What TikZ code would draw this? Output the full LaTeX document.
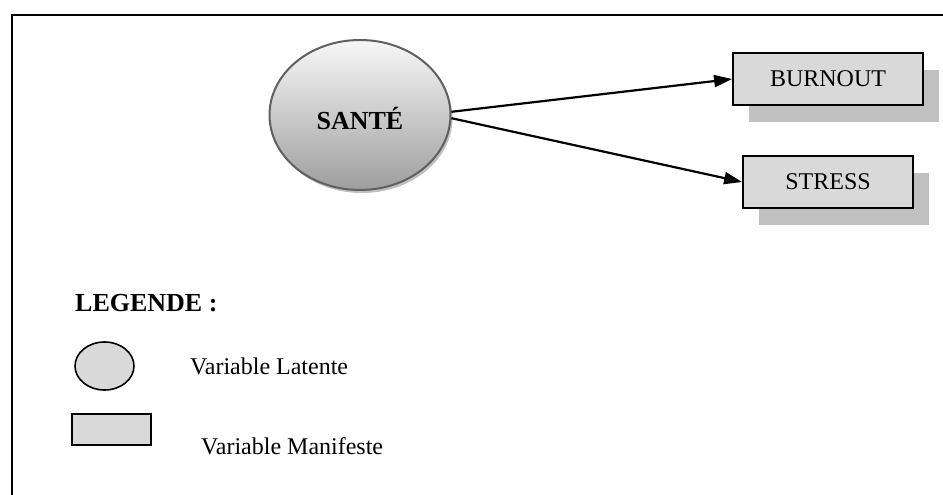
\documentclass[tikz,border=0pt]{standalone}
\usepackage{fontspec}
\setmainfont{Liberation Serif}
\usetikzlibrary{shapes.geometric,shadows,arrows.meta}
\definecolor{boxfill}{HTML}{D9D9D9}
\definecolor{boxshade}{HTML}{C0C0C0}
\definecolor{rimgray}{HTML}{606060}
\begin{document}
\begin{tikzpicture}[x=1pt,y=-1pt,
	latent/.style={ellipse, draw=rimgray, line width=2pt, inner sep=0pt,
		top color=white!97!black, bottom color=black!38,
		drop shadow={shadow xshift=2pt, shadow yshift=-3pt, fill=black!25, opacity=1}},
	manifest/.style={rectangle, draw, line width=1.8pt, fill=boxfill, inner sep=0pt,
		minimum height=52pt, font=\fontsize{24}{28}\selectfont,
		drop shadow={shadow xshift=16pt, shadow yshift=-17pt, fill=boxshade, opacity=1}},
	link/.style={line width=2.2pt, -{Triangle[length=18pt,width=12pt]}},
	legtext/.style={anchor=west, inner sep=0pt, font=\fontsize{24}{28}\selectfont}]
\useasboundingbox (0,0) rectangle (943,495);
\draw[line width=2.2pt] (12,495) -- (12,15) -- (943,15);

\node[latent, minimum width=181pt, minimum height=150pt,
	font=\bfseries\fontsize{26}{30}\selectfont] (sante) at (360,115) {\raisebox{-14pt}[0pt][0pt]{SANTÉ}};
\node[manifest, minimum width=190pt] (burnout) at (828,79) {BURNOUT};
\node[manifest, minimum width=170pt] (stress) at (828,182) {STRESS};

\draw[link] (sante.2) -- (burnout.west);
\draw[link] (sante.-2) -- (stress.west);

% legende
\node[legtext, font=\bfseries\fontsize{26}{30}\selectfont] (legende) at (75,303) {LEGENDE :};
\node[ellipse, draw, line width=1.6pt, fill=boxfill, minimum width=59pt, minimum height=48pt] (legell) at (104.5,366) {};
\node[legtext] (latente) at (190,366) {Variable Latente};
\node[rectangle, draw, line width=1.6pt, fill=boxfill, minimum width=79pt, minimum height=31pt] (legrect) at (111.5,429.5) {};
\node[legtext] (manifeste) at (201,446) {Variable Manifeste};
\end{tikzpicture}
\end{document}
